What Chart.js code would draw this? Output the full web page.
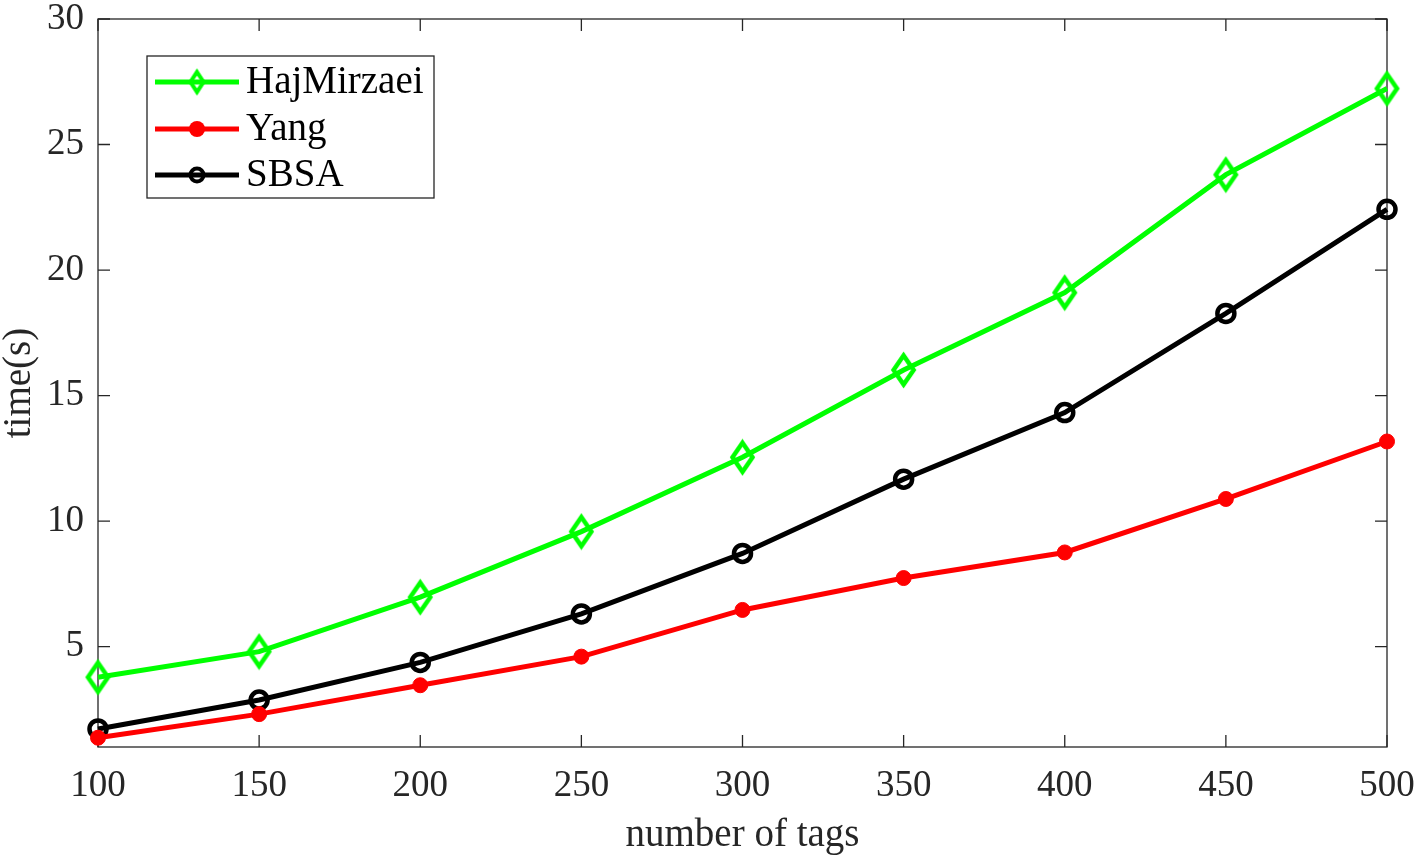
<!DOCTYPE html>
<html><head><meta charset="utf-8">
<script src="https://cdn.jsdelivr.net/npm/chart.js@4"></script>
<style>html,body{margin:0;padding:0;background:#fff}#wrap{width:1418px;height:855px}</style>
</head><body><div id="wrap"><canvas id="c" width="1418" height="855"></canvas></div>
<script>
// ---- data ----
const tags = [100, 150, 200, 250, 300, 350, 400, 450, 500];
const hajMirzaei = [3.78, 4.80, 6.97, 9.58, 12.54, 16.02, 19.10, 23.80, 27.23];
const yang = [1.37, 2.31, 3.46, 4.60, 6.46, 7.73, 8.75, 10.88, 13.17];
const sbsa = [1.72, 2.87, 4.37, 6.30, 8.71, 11.67, 14.32, 18.27, 22.42];
const seriesNames = ['HajMirzaei', 'Yang', 'SBSA'];
const xTicks = [100, 150, 200, 250, 300, 350, 400, 450, 500];
const yTicks = [5, 10, 15, 20, 25, 30];

const FONT = "'Liberation Serif','Times New Roman',serif";
const AX = '#262626';

function diamondCanvas(w, h, lw, color) {
  const c = document.createElement('canvas');
  c.width = w + lw * 2; c.height = h + lw * 2;
  const g = c.getContext('2d');
  const cx = c.width / 2, cy = c.height / 2;
  g.strokeStyle = color; g.lineWidth = lw; g.lineJoin = 'miter';
  g.beginPath();
  g.moveTo(cx, cy - h / 2); g.lineTo(cx + w / 2, cy); g.lineTo(cx, cy + h / 2); g.lineTo(cx - w / 2, cy); g.closePath();
  g.stroke();
  return c;
}
const diamondBig = diamondCanvas(20, 29, 4.5, '#00ff00');
const diamondSmall = diamondCanvas(13, 20, 4, '#00ff00');

const pts = arr => tags.map((t, i) => ({x: t, y: arr[i]}));

const datasets = [
  {label: seriesNames[0], data: pts(hajMirzaei), borderColor: '#00ff00', backgroundColor: '#00ff00',
   borderWidth: 5, pointStyle: diamondBig, pointRadius: 14, clip: false, _legendMarker: 'diamond'},
  {label: seriesNames[1], data: pts(yang), borderColor: '#ff0000', backgroundColor: '#ff0000',
   borderWidth: 5, pointStyle: 'circle', pointRadius: 7.5, pointBorderWidth: 1, pointBackgroundColor: '#ff0000', clip: false, _legendMarker: 'dot'},
  {label: seriesNames[2], data: pts(sbsa), borderColor: '#000000', backgroundColor: '#000000',
   borderWidth: 5, pointStyle: 'circle', pointRadius: 8.5, pointBorderWidth: 4.5, pointBackgroundColor: 'rgba(0,0,0,0)', clip: false, _legendMarker: 'ring'}
];

const framePlugin = {
  id: 'frame',
  beforeDatasetsDraw(chart) {
    const {ctx, chartArea: a, scales} = chart;
    ctx.save();
    ctx.strokeStyle = AX; ctx.lineWidth = 1.3;
    ctx.strokeRect(a.left, a.top, a.right - a.left, a.bottom - a.top);
    const L = 12;
    ctx.beginPath();
    xTicks.forEach(v => {
      const x = scales.x.getPixelForValue(v);
      ctx.moveTo(x, a.bottom); ctx.lineTo(x, a.bottom - L);
      ctx.moveTo(x, a.top); ctx.lineTo(x, a.top + L);
    });
    yTicks.forEach(v => {
      const y = scales.y.getPixelForValue(v);
      ctx.moveTo(a.left, y); ctx.lineTo(a.left + L, y);
      ctx.moveTo(a.right, y); ctx.lineTo(a.right - L, y);
    });
    ctx.stroke();
    ctx.restore();
  }
};

const legendPlugin = {
  id: 'boxLegend',
  afterDraw(chart) {
    const {ctx} = chart;
    const bx = 147, by = 56, bw = 287, bh = 142;
    ctx.save();
    ctx.fillStyle = '#fff'; ctx.fillRect(bx, by, bw, bh);
    ctx.strokeStyle = AX; ctx.lineWidth = 1.3; ctx.strokeRect(bx, by, bw, bh);
    const rows = [82, 129, 175];
    chart.data.datasets.forEach((ds, i) => {
      const y = rows[i];
      ctx.strokeStyle = ds.borderColor; ctx.lineWidth = 5;
      ctx.beginPath(); ctx.moveTo(155, y); ctx.lineTo(239, y); ctx.stroke();
      const mx = 197;
      if (ds._legendMarker === 'diamond') {
        ctx.drawImage(diamondSmall, mx - diamondSmall.width / 2, y - diamondSmall.height / 2);
      } else if (ds._legendMarker === 'dot') {
        ctx.fillStyle = ds.borderColor; ctx.beginPath(); ctx.arc(mx, y, 8, 0, Math.PI * 2); ctx.fill();
      } else {
        ctx.lineWidth = 4; ctx.beginPath(); ctx.arc(mx, y, 6.5, 0, Math.PI * 2); ctx.stroke();
      }
      ctx.fillStyle = '#000'; ctx.font = '39px ' + FONT; ctx.textBaseline = 'middle'; ctx.textAlign = 'left';
      ctx.fillText(ds.label, 246, y + 1);
    });
    ctx.restore();
  }
};

new Chart(document.getElementById('c'), {
  type: 'line',
  data: {datasets},
  options: {
    responsive: false, animation: false, devicePixelRatio: 1,
    layout: {padding: {top: 14, right: 31, left: 0, bottom: 0}},
    plugins: {legend: {display: false}, tooltip: {enabled: false}},
    scales: {
      x: {
        type: 'linear', min: 100, max: 500,
        afterFit: s => { s.height = 108; s.paddingLeft = 0; s.paddingRight = 0; },
        afterBuildTicks: s => { s.ticks = xTicks.map(v => ({value: v})); },
        grid: {display: false, drawTicks: false},
        border: {display: false},
        ticks: {color: AX, font: {family: FONT, size: 37}, padding: 17, maxRotation: 0, autoSkip: false},
        title: {display: true, text: 'number of tags', color: AX, font: {family: FONT, size: 39, lineHeight: 1}, padding: 0}
      },
      y: {
        type: 'linear', min: 1, max: 30,
        afterFit: s => { s.width = 98; s.paddingTop = 0; s.paddingBottom = 0; },
        afterBuildTicks: s => { s.ticks = yTicks.map(v => ({value: v})); },
        grid: {display: false, drawTicks: false},
        border: {display: false},
        ticks: {color: AX, font: {family: FONT, size: 37}, padding: 14},
        title: {display: true, text: 'time(s)', color: AX, font: {family: FONT, size: 39, lineHeight: 1}, padding: 0}
      }
    }
  },
  plugins: [framePlugin, legendPlugin]
});
</script></body></html>
